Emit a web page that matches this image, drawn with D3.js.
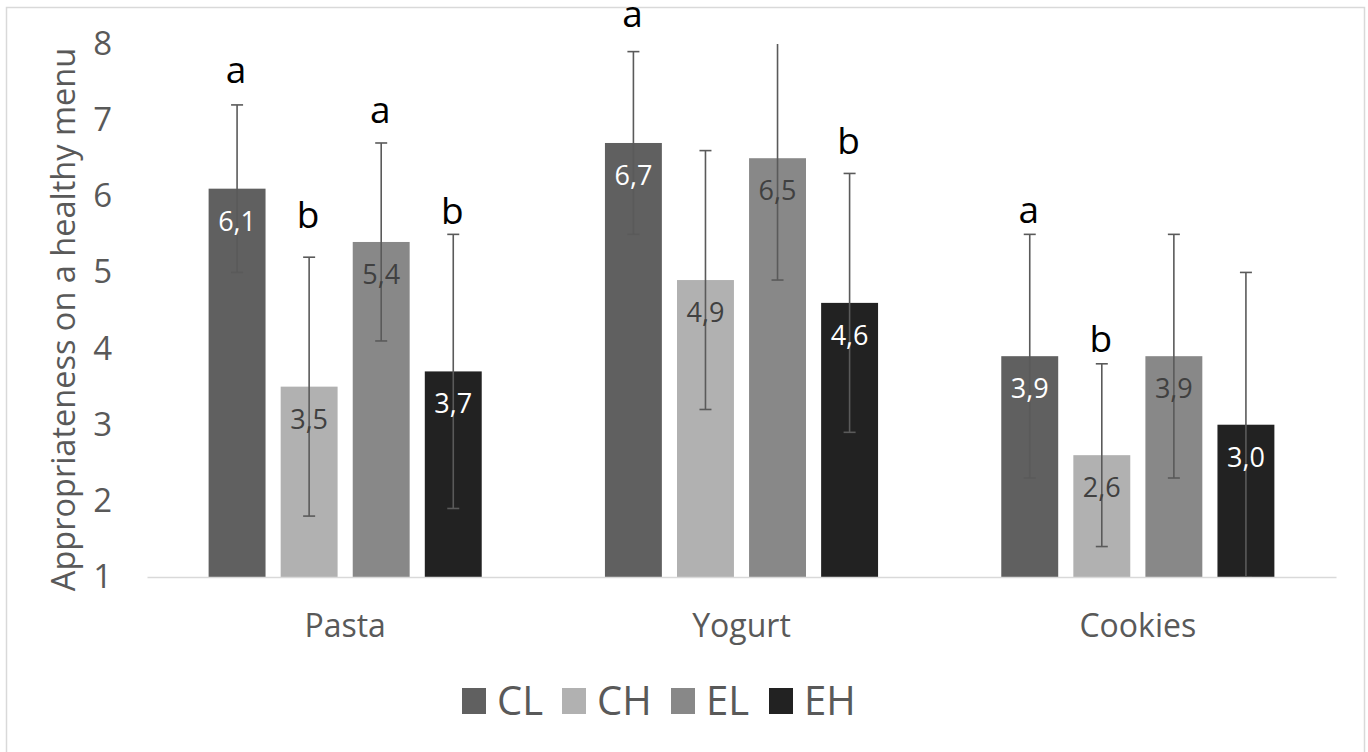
<!DOCTYPE html>
<html>
<head>
<meta charset="utf-8">
<script src="https://cdn.jsdelivr.net/npm/d3@7"></script>
<style>
  html, body { margin: 0; padding: 0; background: #fff; }
  svg { display: block; font-family: "Open Sans", "Noto Sans", sans-serif; }
</style>
</head>
<body>
<svg id="chart" width="1368" height="752"></svg>
<script>
// Food categories and experimental conditions
const categories = ["Pasta", "Yogurt", "Cookies"];
const series = ["CL", "CH", "EL", "EH"];

// Mean ratings per condition (rows follow `series`, columns follow `categories`)
const valuesCL = [6.1, 6.7, 3.9];
const valuesCH = [3.5, 4.9, 2.6];
const valuesEL = [5.4, 6.5, 3.9];
const valuesEH = [3.7, 4.6, 3.0];

// Standard deviations for the error bars
const errorsCL = [1.1, 1.2, 1.6];
const errorsCH = [1.7, 1.7, 1.2];
const errorsEL = [1.3, 1.6, 1.6];
const errorsEH = [1.8, 1.7, 2.0];

// Significance letters: category, condition, letter, height (axis units)
const sigCategory = ["Pasta", "Pasta", "Pasta", "Pasta", "Yogurt", "Yogurt", "Cookies", "Cookies"];
const sigSeries   = ["CL", "CH", "EL", "EH", "CL", "EH", "CL", "CH"];
const sigLetter   = ["a", "b", "a", "b", "a", "b", "a", "b"];
const sigLevel    = [7.49, 5.58, 6.96, 5.64, 8.22, 6.56, 5.65, 3.96];

const yTicks = [1, 2, 3, 4, 5, 6, 7, 8];
const yTitle = "Appropriateness on a healthy menu";

const colors = { CL: "#606060", CH: "#b1b1b1", EL: "#888888", EH: "#222222" };
const labelColors = { CL: "#ffffff", CH: "#404040", EL: "#404040", EH: "#ffffff" };

const valueRows = { CL: valuesCL, CH: valuesCH, EL: valuesEL, EH: valuesEH };
const errorRows = { CL: errorsCL, CH: errorsCH, EL: errorsEL, EH: errorsEH };

const bars = [];
categories.forEach((c, i) => {
  series.forEach(s => {
    bars.push({ category: c, series: s, value: valueRows[s][i], err: errorRows[s][i] });
  });
});

const svg = d3.select("#chart");

// Outer chart frame
svg.append("rect")
  .attr("x", 6.5).attr("y", 7.5)
  .attr("width", 1358).attr("height", 760)
  .attr("fill", "#fff")
  .attr("stroke", "#d9d9d9")
  .attr("stroke-width", 1.5);

const plot = { left: 147, right: 1336, top: 44, bottom: 577 };

const x = d3.scaleBand().domain(categories).range([plot.left, plot.right]).padding(0);
const xs = d3.scaleBand().domain(series).range([0, x.bandwidth()])
  .paddingInner(0.21).paddingOuter(0.855);
const y = d3.scaleLinear().domain([1, 8]).range([plot.bottom, plot.top]);

svg.append("defs").append("clipPath").attr("id", "plot-clip")
  .append("rect")
  .attr("x", plot.left).attr("y", plot.top)
  .attr("width", plot.right - plot.left).attr("height", plot.bottom - plot.top);

// Y axis: labels only, no line or ticks
const yAxis = svg.append("g")
  .attr("transform", `translate(${plot.left - 35},0)`)
  .call(d3.axisLeft(y).tickValues(yTicks).tickSize(0).tickPadding(0).tickFormat(d3.format("d")));
yAxis.select(".domain").remove();
yAxis.selectAll("text")
  .attr("fill", "#595959")
  .style("font-size", "33px")
  .style("font-family", "'Open Sans', sans-serif");

// Y axis title
svg.append("text")
  .attr("transform", `translate(75,${(47 + 592) / 2}) rotate(-90)`)
  .attr("text-anchor", "middle")
  .attr("fill", "#595959")
  .style("font-size", "32.5px")
  .text(yTitle);

// Bars
svg.append("g").selectAll("rect")
  .data(bars)
  .join("rect")
  .attr("x", d => x(d.category) + xs(d.series))
  .attr("y", d => y(d.value))
  .attr("width", xs.bandwidth())
  .attr("height", d => y(1) - y(d.value))
  .attr("fill", d => colors[d.series]);

// X axis baseline and category labels
const xAxis = svg.append("g")
  .attr("transform", `translate(0,${plot.bottom})`)
  .call(d3.axisBottom(x).tickSize(0).tickPadding(0));
xAxis.select(".domain").attr("stroke", "#d9d9d9").attr("stroke-width", 1.5);
xAxis.selectAll("text")
  .attr("y", 60)
  .attr("dy", 0)
  .attr("fill", "#595959")
  .style("font-size", "32px")
  .style("font-family", "'Open Sans', sans-serif");

// Error bars, clipped to the plot area
const errG = svg.append("g").attr("clip-path", "url(#plot-clip)")
  .attr("stroke", "#5a5a5a").attr("stroke-width", 1.6);
const cx = d => x(d.category) + xs(d.series) + xs.bandwidth() / 2;
errG.selectAll("line.stem")
  .data(bars).join("line").attr("class", "stem")
  .attr("x1", cx).attr("x2", cx)
  .attr("y1", d => y(d.value + d.err))
  .attr("y2", d => y(d.value - d.err));
errG.selectAll("line.cap-hi")
  .data(bars).join("line").attr("class", "cap-hi")
  .attr("x1", d => cx(d) - 6).attr("x2", d => cx(d) + 6)
  .attr("y1", d => y(d.value + d.err)).attr("y2", d => y(d.value + d.err));
errG.selectAll("line.cap-lo")
  .data(bars).join("line").attr("class", "cap-lo")
  .attr("x1", d => cx(d) - 6).attr("x2", d => cx(d) + 6)
  .attr("y1", d => y(d.value - d.err)).attr("y2", d => y(d.value - d.err));

// Value labels inside bar tops (decimal comma)
const fmt = v => d3.format(".1f")(v).replace(".", ",");
svg.append("g").selectAll("text")
  .data(bars).join("text")
  .attr("x", cx)
  .attr("y", d => y(d.value) + 42)
  .attr("text-anchor", "middle")
  .attr("fill", d => labelColors[d.series])
  .style("font-size", "27px")
  .text(d => fmt(d.value));

// Significance letters
const sig = sigLetter.map((l, i) => ({ category: sigCategory[i], series: sigSeries[i], letter: l, level: sigLevel[i] }));
svg.append("g").selectAll("text")
  .data(sig).join("text")
  .attr("x", d => cx(d) - 1)
  .attr("y", d => y(d.level))
  .attr("text-anchor", "middle")
  .attr("fill", "#000")
  .style("font-size", "37px")
  .text(d => d.letter);

// Legend
const legendX = [462, 562, 671, 769];
const legend = svg.append("g").selectAll("g")
  .data(series).join("g")
  .attr("transform", (d, i) => `translate(${legendX[i]},688)`);
legend.append("rect")
  .attr("width", 24).attr("height", 26)
  .attr("fill", d => colors[d]);
legend.append("text")
  .attr("x", 35).attr("y", 27)
  .attr("fill", "#595959")
  .style("font-size", "40px")
  .text(d => d);
</script>
</body>
</html>
